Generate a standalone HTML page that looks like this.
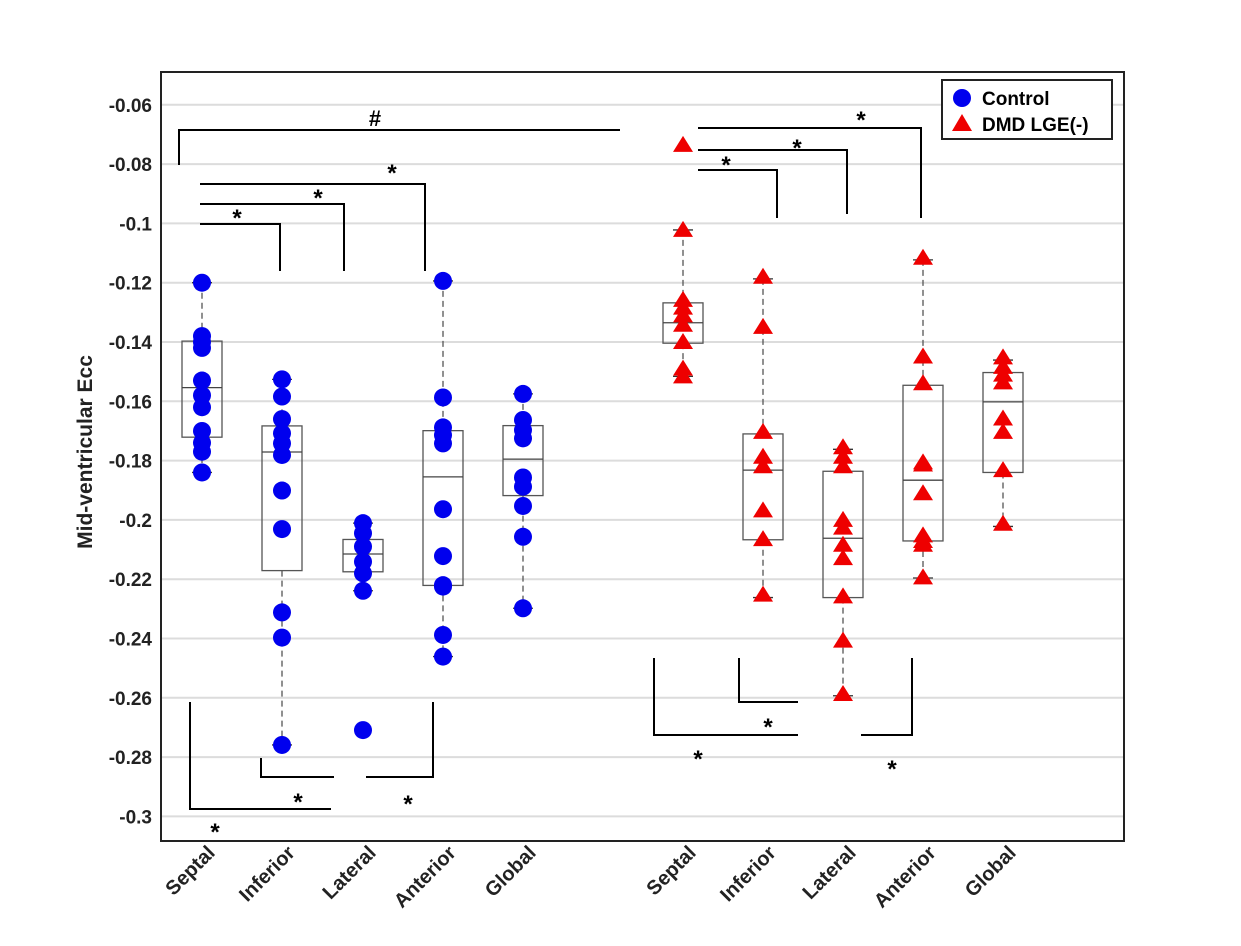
<!DOCTYPE html>
<html><head><meta charset="utf-8"><style>
html,body{margin:0;padding:0;background:#fff;}
svg{display:block;font-family:"Liberation Sans",Arial,sans-serif;}
</style></head><body>
<svg id="chart" width="1241" height="946" viewBox="0 0 1241 946">
<g id="grid"></g>
<g id="brackets"></g>
<g id="boxes"></g>
<g id="points"></g>
<rect x="161" y="72" width="963" height="769" fill="none" stroke="#222" stroke-width="2"/>
<g id="yticks"></g>
<g id="xticks"></g>
<text x="92" y="452" transform="rotate(-90 92 452)" text-anchor="middle" font-size="21" font-weight="bold" fill="#222">Mid-ventricular Ecc</text>
<g>
<rect x="942" y="80" width="170" height="59" fill="#fff" stroke="#222" stroke-width="2"/>
<g>
<circle cx="962" cy="98" r="9" fill="#0000ee"/>
<text x="982" y="105" font-size="19" font-weight="bold">Control</text></g>
<g>
<polygon points="962,114 972,131 952,131" fill="#ee0000"/>
<text x="982" y="131" font-size="19" font-weight="bold">DMD LGE(-)</text></g>
</g>
</svg>
<script>
const categories = ["Septal","Inferior","Lateral","Anterior","Global","Septal","Inferior","Lateral","Anterior","Global"];
const groups = ["control","control","control","control","control","dmd","dmd","dmd","dmd","dmd"];
const controlValues = [
 [-0.120,-0.138,-0.140,-0.142,-0.153,-0.158,-0.162,-0.170,-0.174,-0.177,-0.184],
 [-0.1526,-0.1584,-0.166,-0.1708,-0.1742,-0.1781,-0.1901,-0.2031,-0.2312,-0.2397,-0.2759],
 [-0.2011,-0.2045,-0.209,-0.2141,-0.218,-0.2239,-0.2709],
 [-0.1194,-0.1587,-0.1688,-0.1714,-0.1742,-0.1964,-0.2122,-0.2220,-0.2225,-0.2388,-0.2461],
 [-0.1575,-0.1663,-0.1697,-0.1725,-0.1857,-0.1888,-0.1953,-0.2057,-0.2298]
];
const dmdValues = [
 [-0.0735,-0.1022,-0.1258,-0.1284,-0.131,-0.1342,-0.140,-0.149,-0.1516],
 [-0.118,-0.1349,-0.1703,-0.1787,-0.1819,-0.1968,-0.2065,-0.2252],
 [-0.1755,-0.1787,-0.1819,-0.200,-0.2026,-0.2084,-0.2129,-0.2258,-0.2407,-0.2587],
 [-0.1116,-0.1449,-0.1539,-0.1806,-0.1813,-0.191,-0.2052,-0.2071,-0.2084,-0.2194],
 [-0.1452,-0.1484,-0.151,-0.1536,-0.1658,-0.1703,-0.1832,-0.2013]
];
const boxQ1 = [-0.1397,-0.1683,-0.2066,-0.1699,-0.1682,-0.1268,-0.1710,-0.1836,-0.1546,-0.1503];
const boxMedian = [-0.1554,-0.1771,-0.2115,-0.1855,-0.1795,-0.1335,-0.1832,-0.2062,-0.1866,-0.1602];
const boxQ3 = [-0.1721,-0.2171,-0.2175,-0.2221,-0.1918,-0.1404,-0.2067,-0.2262,-0.2071,-0.1840];
const whiskerTop = [-0.120,-0.1526,-0.2011,-0.1194,-0.1575,-0.1022,-0.1187,-0.1762,-0.1123,-0.1461];
const whiskerBottom = [-0.184,-0.2759,-0.2239,-0.2461,-0.2298,-0.1516,-0.2262,-0.2593,-0.2196,-0.2022];
const yTicks = [-0.06,-0.08,-0.1,-0.12,-0.14,-0.16,-0.18,-0.2,-0.22,-0.24,-0.26,-0.28,-0.3];
const yTickLabels = ["-0.06","-0.08","-0.1","-0.12","-0.14","-0.16","-0.18","-0.2","-0.22","-0.24","-0.26","-0.28","-0.3"];

const NS="http://www.w3.org/2000/svg";
const catX=[202,282,363,443,523,683,763,843,923,1003];
function xPos(i){return catX[i];}
function yPos(v){return 282.7+(-0.12-v)*2965;}
function mk(tag,attrs,parent){const e=document.createElementNS(NS,tag);for(const k in attrs)e.setAttribute(k,attrs[k]);parent.appendChild(e);return e;}

const grid=document.getElementById('grid'), yt=document.getElementById('yticks'), xt=document.getElementById('xticks');
yTicks.forEach((v,i)=>{
 const l=mk('line',{x1:162,x2:1123,y1:yPos(v),y2:yPos(v),stroke:'#dcdcdc','stroke-width':2},grid);
 
 
 const t=mk('text',{x:152,y:yPos(v)+7,'text-anchor':'end','font-size':19,'font-weight':'bold',fill:'#222'},yt);
 t.textContent=yTickLabels[i];
 
 
});
categories.forEach((c,i)=>{
 const x=xPos(i)+14,y=854;
 const t=mk('text',{x:x,y:y,'text-anchor':'end','font-size':20,'font-weight':'bold',fill:'#222',transform:`rotate(-45 ${x} ${y})`},xt);
 t.textContent=c;
 
 
});

const boxes=document.getElementById('boxes'), pts=document.getElementById('points');
categories.forEach((c,i)=>{
 const x=xPos(i);
 const g=mk('g',{},boxes);
 
 
 const yt1=yPos(whiskerTop[i]), yb=yPos(whiskerBottom[i]), q1=yPos(boxQ1[i]), q3=yPos(boxQ3[i]), md=yPos(boxMedian[i]);
 mk('line',{x1:x,x2:x,y1:yt1,y2:q1,stroke:'#555','stroke-width':1.3,'stroke-dasharray':'6 4'},g);
 mk('line',{x1:x,x2:x,y1:q3,y2:yb,stroke:'#555','stroke-width':1.3,'stroke-dasharray':'6 4'},g);
 mk('line',{x1:x-10,x2:x+10,y1:yt1,y2:yt1,stroke:'#333','stroke-width':1.3},g);
 mk('line',{x1:x-10,x2:x+10,y1:yb,y2:yb,stroke:'#333','stroke-width':1.3},g);
 mk('rect',{x:x-20,y:q1,width:40,height:q3-q1,fill:'none',stroke:'#555','stroke-width':1.3},g);
 mk('line',{x1:x-20,x2:x+20,y1:md,y2:md,stroke:'#444','stroke-width':1.3},g);
});
controlValues.forEach((arr,i)=>{
 const x=xPos(i);
 arr.forEach(v=>{
  const c=mk('circle',{cx:x,cy:yPos(v),r:9,fill:'#0000ee'},pts);
  
  
 });
});
dmdValues.forEach((arr,i)=>{
 const x=xPos(i+5);
 arr.forEach(v=>{
  const y=yPos(v);
  const p=mk('polygon',{points:`${x},${y-9} ${x+10},${y+7} ${x-10},${y+7}`,fill:'#ee0000'},pts);
  
  
 });
});

const br=document.getElementById('brackets');
const paths=[
 "M179,165 V130 H620",
 "M200,184 H425 V271","M200,204 H344 V271","M200,224 H280 V271",
 "M190,702 V809 H331","M261,758 V777 H334","M366,777 H433 V702",
 "M698,128 H921 V218","M698,150 H847 V214","M698,170 H777 V218",
 "M654,658 V735 H798","M739,658 V702 H798","M861,735 H912 V658"
];
paths.forEach(d=>{
 const p=mk('path',{d:d,fill:'none',stroke:'#000','stroke-width':2},br);
 
 
});
const marks=[["#",375,126],["*",237,226],["*",318,206],["*",392,181],["*",215,840],["*",298,810],["*",408,812],["*",861,128],["*",797,156],["*",726,173],["*",698,767],["*",768,735],["*",892,777]];
marks.forEach(m=>{
 const t=mk('text',{x:m[1],y:m[2],'text-anchor':'middle','font-size':m[0]=="#"?22:24,'font-weight':'bold',fill:'#000'},br);
 t.textContent=m[0];
 
 
});
</script>
</body></html>
